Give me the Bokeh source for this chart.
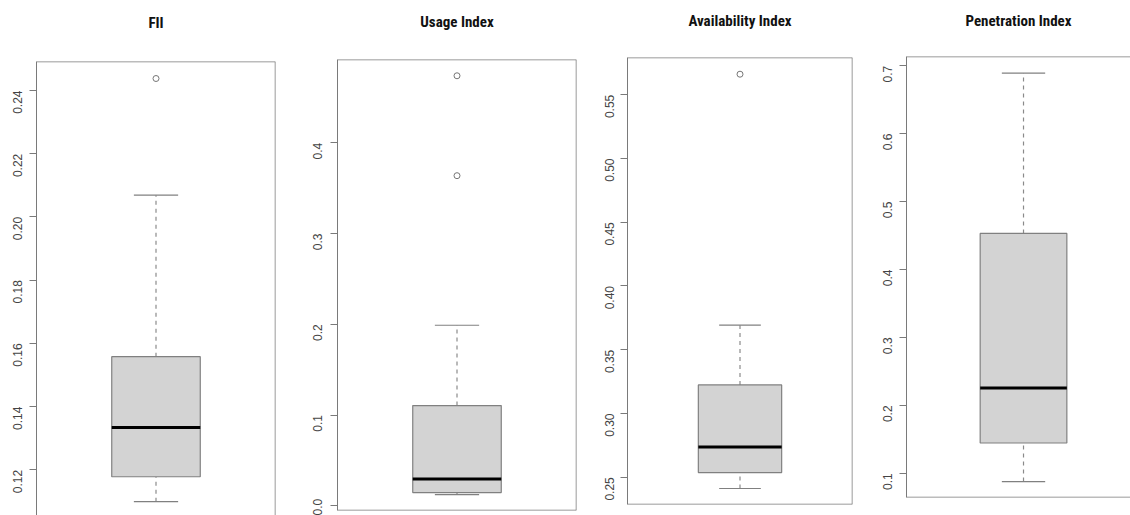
import math
from bokeh.plotting import figure
from bokeh.layouts import row, column
from bokeh.models import FixedTicker, PrintfTickFormatter, Title, Span, Range1d
from bokeh.embed import file_html
from bokeh.resources import INLINE

# ---- data ----
titles = ["FII", "Usage Index", "Availability Index", "Penetration Index"]
lower_whisker = [0.1099, 0.0124, 0.2412, 0.0878]
q1 = [0.1178, 0.0146, 0.2537, 0.1446]
median = [0.1334, 0.0295, 0.2738, 0.2255]
q3 = [0.1558, 0.1105, 0.3224, 0.4531]
upper_whisker = [0.2069, 0.1990, 0.3693, 0.6891]
outliers = [[0.2438], [0.3638, 0.4739], [0.5661], []]
tick_values = [
    [0.12, 0.14, 0.16, 0.18, 0.20, 0.22, 0.24],
    [0.0, 0.1, 0.2, 0.3, 0.4],
    [0.25, 0.30, 0.35, 0.40, 0.45, 0.50, 0.55],
    [0.1, 0.2, 0.3, 0.4, 0.5, 0.6, 0.7],
]
tick_formats = ["%.2f", "%.1f", "%.2f", "%.1f"]

# ---- layout (pixels / axis extents) ----
fig_w = [300, 293, 279, 258]
fig_h = 515
borders = [  # left, right, top, bottom
    (36, 25, 61, 0),
    (37, 17, 57, 5),
    (34, 20, 56, 11),
    (34, 0, 54, 18),
]
y_ranges = [(0.10554, 0.24918), (-0.00516, 0.49183), (0.22864, 0.57919), (0.06438, 0.71363)]
x_ranges = [(0.46, 1.54), (0.46, 1.54), (0.46, 1.54), (0.46, 1.4937)]
title_offsets = [0, 0, 0, 5]
title_standoffs = [23, 21, 19, 18]
label_standoffs = [12, 13, 11, 12]
# which frame sides to draw: top, right, bottom
sides = [(True, True, False), (True, True, True), (True, True, True), (True, False, True)]

FRAME = "#7a7a7a"
BOXLINE = "#808080"
WHISK = "#8a8a8a"
TXT = "#444444"
BOXW = 0.4
CAPW = 0.2

figs = []
for i in range(4):
    bl, br, bt, bb = borders[i]
    p = figure(width=fig_w[i], height=fig_h, output_backend="svg", toolbar_location=None,
               x_range=Range1d(*x_ranges[i]), y_range=Range1d(*y_ranges[i]),
               min_border_left=bl, min_border_right=br, min_border_top=bt, min_border_bottom=bb)
    p.outline_line_color = None
    p.grid.visible = False
    p.xaxis.visible = False
    p.background_fill_color = "white"
    p.border_fill_color = "white"

    ya = p.yaxis[0]
    ya.ticker = FixedTicker(ticks=tick_values[i])
    ya.formatter = PrintfTickFormatter(format=tick_formats[i])
    ya.major_label_orientation = math.pi / 2
    ya.major_label_text_font = "Liberation Sans"
    ya.major_label_text_font_size = "12px"
    ya.major_label_text_color = TXT
    ya.major_label_standoff = label_standoffs[i]
    ya.major_tick_out = 7
    ya.major_tick_in = 0
    ya.minor_tick_out = 0
    ya.minor_tick_in = 0
    ya.axis_line_color = FRAME
    ya.major_tick_line_color = FRAME

    top, right, bottom = sides[i]
    if top:
        p.add_layout(Span(location=y_ranges[i][1], dimension="width", line_color=FRAME, line_width=1.5))
    if right:
        p.add_layout(Span(location=x_ranges[i][1], dimension="height", line_color=FRAME, line_width=1.5))
    if bottom:
        p.add_layout(Span(location=y_ranges[i][0], dimension="width", line_color=FRAME, line_width=1.5))

    # whiskers
    p.segment(x0=[1, 1], x1=[1, 1], y0=[q3[i], lower_whisker[i]], y1=[upper_whisker[i], q1[i]],
              line_color=WHISK, line_width=1.2, line_dash="4 4")
    # caps
    p.segment(x0=[1 - CAPW / 2] * 2, x1=[1 + CAPW / 2] * 2,
              y0=[upper_whisker[i], lower_whisker[i]], y1=[upper_whisker[i], lower_whisker[i]],
              line_color=BOXLINE, line_width=1.2)
    # box
    p.vbar(x=[1], width=BOXW, bottom=[q1[i]], top=[q3[i]],
           fill_color="#d3d3d3", line_color=BOXLINE, line_width=1.2)
    # median
    p.segment(x0=[1 - BOXW / 2], x1=[1 + BOXW / 2], y0=[median[i]], y1=[median[i]],
              line_color="black", line_width=3)
    # outliers
    if outliers[i]:
        p.scatter(x=[1] * len(outliers[i]), y=outliers[i], marker="circle", size=6,
                  fill_color=None, line_color="#777777", line_width=1)

    p.add_layout(Title(text=titles[i] + "\n\u00a0", align="center", offset=title_offsets[i],
                       standoff=title_standoffs[i],
                       text_font="'Liberation Sans Narrow', 'Roboto Condensed', 'Liberation Sans'",
                       text_font_style="bold", text_font_size="15px", text_color="#111111"), "above")
    figs.append(column(p, spacing=0))

layout = row(*figs, spacing=0)
open("out.html", "w").write(file_html(layout, INLINE))
